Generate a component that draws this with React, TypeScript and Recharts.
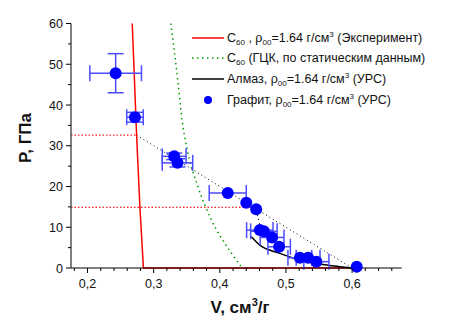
import React from "react";
import { ComposedChart, Line, Scatter, ErrorBar, XAxis, YAxis } from "recharts";

// Графит (УРС) — экспериментальные точки
const graphiteV = [0.2425, 0.2717, 0.331, 0.336, 0.412, 0.44, 0.455, 0.4605, 0.4666, 0.479, 0.4897, 0.521, 0.5335, 0.546, 0.607];
const graphiteP = [47.8, 37.0, 27.4, 25.8, 18.4, 16.0, 14.4, 9.3, 9.0, 7.5, 5.2, 2.5, 2.5, 1.55, 0.3];
const graphiteErrV = [0.039, 0.0125, 0.018, 0.023, 0.028, 0, 0, 0.02, 0.02, 0.018, 0.017, 0.018, 0.018, 0.019, 0];
const graphiteErrP = [4.8, 1.2, 0.8, 1.0, 0, 0, 0, 0, 0, 0, 0, 0, 0, 0, 0];

// C60, эксперимент
const expV = [0.2676, 0.2742, 0.2792, 0.2845, 0.6];
const expP = [60, 32.6, 14.9, 0, 0];

// C60 ГЦК, статические данные
const fccV = [0.326, 0.337, 0.343, 0.3498, 0.367, 0.3875, 0.4178, 0.434];
const fccP = [60, 45.2, 36.2, 29.7, 19.9, 11.75, 3.6, 0];

// Алмаз (УРС)
const diamondV = [0.4477, 0.4605, 0.4907, 0.521, 0.551, 0.581, 0.599];
const diamondP = [7.67, 5.6, 3.6, 1.96, 0.98, 0.33, 0];

// вспомогательные линии
const hLine1V = [0.175, 0.2742];
const hLine1P = [32.6, 32.6];
const hLine2V = [0.175, 0.455];
const hLine2P = [14.9, 14.9];
const rayleigh1V = [0.2742, 0.6];
const rayleigh1P = [32.6, 0];
const rayleigh2V = [0.4545, 0.4645];
const rayleigh2P = [14.9, 7.5];

const vTicks = [0.18, 0.2, 0.22, 0.24, 0.26, 0.28, 0.3, 0.32, 0.34, 0.36, 0.38, 0.4, 0.42, 0.44, 0.46, 0.48, 0.5, 0.52, 0.54, 0.56, 0.58, 0.6, 0.62, 0.64, 0.66];
const pTicks = [0, 5, 10, 15, 20, 25, 30, 35, 40, 45, 50, 55, 60];

const pts = (vs: number[], ps: number[]) => vs.map((v, i) => ({ v, p: ps[i] }));

const graphite = graphiteV.map((v, i) => ({
  v,
  p: graphiteP[i],
  ev: graphiteErrV[i],
  ep: graphiteErrP[i],
}));

const FONT = "Arial, 'Liberation Sans', sans-serif";

function XTick({ x, y, payload }: any) {
  const val = payload.value as number;
  const major = Math.round(val * 100) % 10 === 0;
  return (
    <g>
      <line x1={x} x2={x} y1={y} y2={y + (major ? 5 : 3)} stroke="#000" strokeWidth={1} />
      {major && (
        <text x={x} y={y + 20} textAnchor="middle" fontSize={12.5} fontFamily={FONT} fill="#111">
          {val.toFixed(1).replace(".", ",")}
        </text>
      )}
    </g>
  );
}

function YTick({ x, y, payload }: any) {
  const val = payload.value as number;
  const major = val % 10 === 0;
  return (
    <g>
      <line x1={x - (major ? 5 : 3)} x2={x} y1={y} y2={y} stroke="#000" strokeWidth={1} />
      {major && (
        <text x={x - 8} y={y + 4.5} textAnchor="end" fontSize={12.5} fontFamily={FONT} fill="#111">
          {val}
        </text>
      )}
    </g>
  );
}

const sub: React.CSSProperties = { fontSize: 8, position: "relative", top: 3 };
const sup: React.CSSProperties = { fontSize: 8, position: "relative", top: -5 };

function LegendRow({ top, sample, children }: { top: number; sample: React.ReactNode; children: React.ReactNode }) {
  return (
    <div style={{ position: "absolute", left: 190, top: top - 8, height: 16, display: "flex", alignItems: "center", whiteSpace: "nowrap" }}>
      <svg width={36} height={16} style={{ flex: "none" }}>{sample}</svg>
      <span style={{ fontSize: 12.5, fontFamily: FONT, color: "#111", marginLeft: 1 }}>{children}</span>
    </div>
  );
}

export default function App() {
  return (
    <div style={{ position: "absolute", left: 0, top: 0, width: 452, height: 325, background: "#fff" }}>
      <ComposedChart width={452} height={325} data={graphite} margin={{ top: 23.5, right: 50.3, bottom: 0, left: 0 }}>
        <XAxis
          type="number"
          dataKey="v"
          domain={[0.175, 0.675]}
          ticks={vTicks}
          allowDataOverflow
          height={57}
          tickSize={0}
          tickMargin={0}
          tickLine={false}
          tick={<XTick />}
          stroke="#000"
          interval={0}
        />
        <YAxis
          type="number"
          dataKey="p"
          domain={[0, 60]}
          ticks={pTicks}
          width={71}
          tickSize={0}
          tickMargin={0}
          tickLine={false}
          tick={<YTick />}
          stroke="#555"
          strokeWidth={1.5}
          interval={0}
        />
        <Line data={pts(hLine1V, hLine1P)} dataKey="p" stroke="#ff2020" strokeWidth={1.2} strokeDasharray="1.5 2" dot={false} isAnimationActive={false} />
        <Line data={pts(hLine2V, hLine2P)} dataKey="p" stroke="#ff2020" strokeWidth={1.2} strokeDasharray="1.5 2" dot={false} isAnimationActive={false} />
        <Line data={pts(rayleigh1V, rayleigh1P)} dataKey="p" stroke="#000" strokeWidth={1} strokeDasharray="1 3" dot={false} isAnimationActive={false} />
        <Line data={pts(rayleigh2V, rayleigh2P)} dataKey="p" stroke="#000" strokeWidth={1} strokeDasharray="1 3" dot={false} isAnimationActive={false} />
        <Line data={pts(fccV, fccP)} dataKey="p" type="monotone" stroke="#009900" strokeWidth={1.5} strokeDasharray="1.5 3.5" dot={false} isAnimationActive={false} />
        <Line data={pts(expV, expP)} dataKey="p" stroke="#ff0000" strokeWidth={1.5} dot={false} isAnimationActive={false} />
        <Line data={pts(diamondV, diamondP)} dataKey="p" type="monotone" stroke="#000" strokeWidth={1.5} dot={false} isAnimationActive={false} />
        <Scatter
          data={graphite}
          dataKey="p"
          isAnimationActive={false}
          shape={(s: any) => <circle cx={s.cx} cy={s.cy} r={6} fill="#0000ff" />}
        >
          <ErrorBar dataKey="ev" direction="x" width={8} stroke="#4b4bff" strokeWidth={1.5} />
          <ErrorBar dataKey="ep" direction="y" width={8} stroke="#4b4bff" strokeWidth={1.5} />
        </Scatter>
      </ComposedChart>

      <LegendRow top={37.7} sample={<line x1={2} x2={34} y1={8} y2={8} stroke="#ff0000" strokeWidth={1.5} />}>
        C<span style={sub}>60</span> , ρ<span style={sub}>00</span>=1.64 г/см<span style={sup}>3</span> (Эксперимент)
      </LegendRow>
      <LegendRow top={57.5} sample={<line x1={2} x2={34} y1={8} y2={8} stroke="#009900" strokeWidth={1.5} strokeDasharray="1.5 3.5" />}>
        C<span style={sub}>60</span> (ГЦК, по статическим данным)
      </LegendRow>
      <LegendRow top={78.5} sample={<line x1={2} x2={34} y1={8} y2={8} stroke="#000" strokeWidth={1.5} />}>
        Алмаз, ρ<span style={sub}>00</span>=1.64 г/см<span style={sup}>3</span> (УРС)
      </LegendRow>
      <LegendRow top={100} sample={<circle cx={18} cy={8} r={4} fill="#0000ff" />}>
        Графит, ρ<span style={sub}>00</span>=1.64 г/см<span style={sup}>3</span> (УРС)
      </LegendRow>

      <div style={{ position: "absolute", left: 140, width: 200, top: 298, textAlign: "center", fontFamily: FONT, fontWeight: "bold", fontSize: 17, color: "#111", whiteSpace: "nowrap" }}>
        V, см<span style={{ fontSize: 11, position: "relative", top: -7 }}>3</span>/г
      </div>
      <div style={{ position: "absolute", left: 26, top: 138, transform: "translate(-50%, -50%) rotate(-90deg)", fontFamily: FONT, fontWeight: "bold", fontSize: 17, color: "#111", whiteSpace: "nowrap" }}>
        P, ГПа
      </div>
    </div>
  );
}
